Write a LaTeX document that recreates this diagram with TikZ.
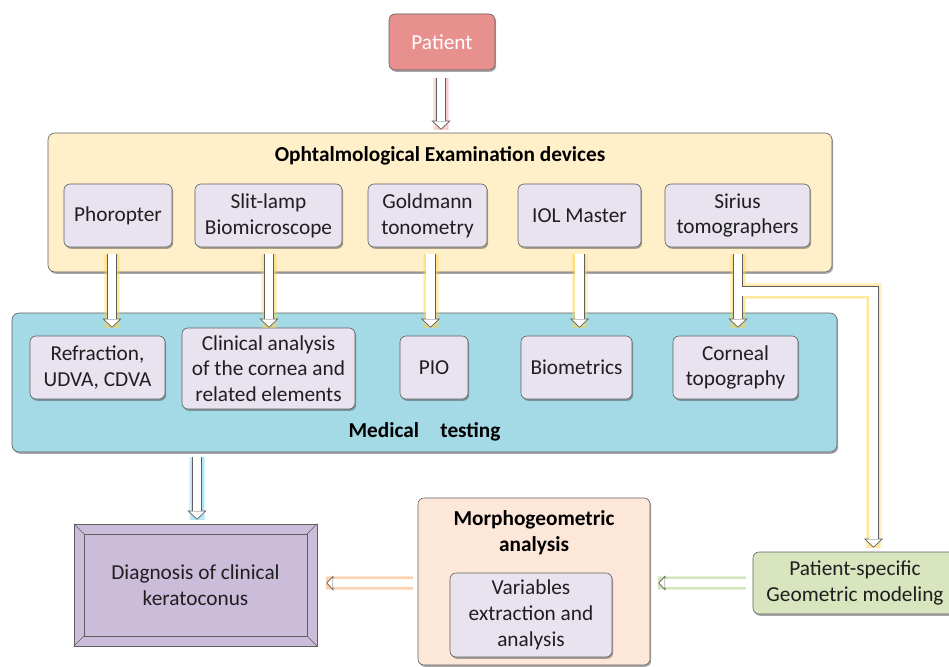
\documentclass[tikz,border=0pt]{standalone}
\usepackage{fontspec}
\setmainfont{Carlito}
\usetikzlibrary{arrows.meta,shadows,calc}
\definecolor{patfill}{HTML}{E8908D}
\definecolor{odefill}{HTML}{FFF0C9}
\definecolor{devfill}{HTML}{E8E3EF}
\definecolor{medfill}{HTML}{A3DAE5}
\definecolor{diagfill}{HTML}{CBBCDA}
\definecolor{morfill}{HTML}{FDE7D8}
\definecolor{psfill}{HTML}{D8E5BE}
\definecolor{edge}{HTML}{5F5F5F}
\definecolor{glowpink}{HTML}{F4A0A0}
\definecolor{glowgold}{HTML}{FFD34D}
\definecolor{glowcyan}{HTML}{6FD3EA}
\definecolor{gloworange}{HTML}{F9A868}
\definecolor{glowgreen}{HTML}{A9D27A}
\tikzset{
  txt/.style={font=\fontsize{21.3}{25.8}\selectfont, text=black!88},
  ttl/.style={font=\fontsize{21.3}{26}\selectfont\bfseries, text=black},
  shad/.style={drop shadow={shadow xshift=1.2pt, shadow yshift=-1.8pt, opacity=0.45, fill=black!75}},
  box/.style={draw=edge, line width=0.6pt, rounded corners=6pt, fill=devfill,
    align=center, inner sep=1pt, txt, shad},
  bigbox/.style={draw=edge, line width=0.6pt, rounded corners=7pt, shad},
  tipV/.style={-{Triangle[open,fill=white,line width=0.7pt,length=9pt,width=19pt]}},
  tipH/.style={-{Triangle[open,fill=white,line width=0.7pt,length=7pt,width=15pt]}},
  shaftV/.style={draw=edge, line width=10pt},
  shaftH/.style={draw=edge, line width=8.5pt},
  innerV/.style={draw=white, line width=8.6pt, shorten >=8.3pt},
  innerH/.style={draw=white, line width=7.1pt, shorten >=6.4pt},
  glowV/.style={draw=#1, line width=16pt, opacity=0.3},
  glowVb/.style={draw=#1, line width=13pt, opacity=0.35},
  glowH/.style={draw=#1, line width=14pt, opacity=0.3},
  glowHb/.style={draw=#1, line width=11.5pt, opacity=0.35},
  barrowV/.style={shaftV, tipV, preaction={glowV=#1, -}, preaction={glowVb=#1, -}, postaction={innerV, -}},
  barrowH/.style={shaftH, tipH, preaction={glowH=#1, -}, preaction={glowHb=#1, -}, postaction={innerH, -}},
}
\begin{document}
\begin{tikzpicture}[x=1pt,y=-1pt]
\useasboundingbox (0,0) rectangle (949,666);

% big containers
\node[bigbox, fill=odefill, minimum width=784pt, minimum height=139pt] (ode) at (440,202.5) {};
\node[ttl] (odet) at (440,156) {Ophtalmological Examination devices};
\node[bigbox, fill=medfill, minimum width=825pt, minimum height=139pt] (med) at (424.5,382.5) {};
\node[ttl] (medt) at (424.5,432) {Medical\hspace{1em}testing};

% patient
\node[box, fill=patfill, text=white, minimum width=106pt, minimum height=56pt] (pat) at (442,42) {Patient};

% devices
\node[box, minimum width=108pt, minimum height=63pt] (phor) at (118,215.5) {Phoropter};
\node[box, minimum width=147pt, minimum height=63pt] (slit) at (268.5,215.5) {Slit-lamp\\Biomicroscope};
\node[box, minimum width=119pt, minimum height=63pt] (gold) at (427.5,215.5) {Goldmann\\tonometry};
\node[box, minimum width=123pt, minimum height=63pt] (iol) at (579.5,215.5) {IOL Master};
\node[box, minimum width=145pt, minimum height=63pt] (sir) at (737.5,215.5) {Sirius\\tomographers};

% medical tests
\node[box, minimum width=135pt, minimum height=63pt] (refr) at (97.5,367.5) {Refraction,\\UDVA, CDVA};
\node[box, minimum width=173pt, minimum height=81pt] (clin) at (268.5,368.5) {Clinical analysis\\of the cornea and\\related elements};
\node[box, minimum width=68pt, minimum height=63pt] (pio) at (434,367.5) {PIO};
\node[box, minimum width=111pt, minimum height=63pt] (biom) at (576.5,367.5) {Biometrics};
\node[box, minimum width=125pt, minimum height=63pt] (corn) at (735.5,367.5) {Corneal\\topography};

% diagnosis (bevel frame)
\node[draw=edge, line width=0.6pt, fill=diagfill, minimum width=243pt, minimum height=122pt,
      align=center, txt] (diag) at (195.5,585) {Diagnosis of clinical\\keratoconus};
\draw[edge, line width=0.6pt] ($(diag.north west)+(10.5,10.5)$) coordinate (dnw)
  rectangle ($(diag.south east)+(-10.5,-10.5)$) coordinate (dse);
\draw[edge, line width=0.6pt] (diag.north west) -- (dnw)
  (diag.south east) -- (dse)
  (diag.north east) -- ($(diag.north east)+(-10.5,10.5)$)
  (diag.south west) -- ($(diag.south west)+(10.5,-10.5)$);

% morphogeometric
\node[bigbox, rounded corners=6pt, fill=morfill, minimum width=232pt, minimum height=167pt] (mor) at (534,581.5) {};
\node[ttl, align=center] (mort) at (534,533) {Morphogeometric\\analysis};
\node[box, minimum width=162pt, minimum height=84pt] (var) at (531,615) {Variables\\extraction and\\analysis};

% patient-specific
\node[box, fill=psfill, minimum width=204pt, minimum height=62pt] (ps) at (855,583) {Patient-specific\\Geometric modeling};

% arrows
\draw[barrowV=glowpink] ($(pat.south)+(-1,8)$) -- ($(pat.south |- ode.north)+(-1,-3)$);
\draw[barrowV=glowgold] ($(phor.south)+(-6,7)$) -- ($(phor.south |- refr.north)+(-6,-8)$);
\draw[barrowV=glowgold] ($(slit.south)+(0.5,7)$) -- ($(slit.south |- refr.north)+(0.5,-8)$);
\draw[barrowV=glowgold] ($(gold.south)+(3,7)$) -- ($(gold.south |- refr.north)+(3,-8)$);
\draw[barrowV=glowgold] ($(iol.south)+(0,7)$) -- ($(iol.south |- refr.north)+(0,-8)$);

% Sirius split
\coordinate (s1) at ($(sir.south)+(0.5,7)$);
\coordinate (e2) at ($(sir.south |- corn.north)+(0.5,-8)$);
\coordinate (c1) at ($(sir.south)+(0.5,44)$);
\coordinate (e1) at ($(ps.north)+(18.5,-4)$);
\draw[glowV=glowgold] (s1) -- (e2) (s1) -- (c1) -| (e1);
\draw[glowVb=glowgold] (s1) -- (e2) (s1) -- (c1) -| (e1);
\draw[shaftV, tipV] (s1) -- (e2);
\draw[shaftV, tipV, line join=miter] (s1) -- (c1) -| (e1);
\draw[innerV, line join=miter] (s1) -- (c1) -| (e1);
\draw[innerV] (s1) -- (e2);

\draw[barrowV=glowcyan] ($(diag.north |- med.south)+(1.5,5)$) -- ($(diag.north)+(1.5,-4)$);

\coordinate (m1) at ($(mor.west)+(-5,1.5)$);
\draw[barrowH=gloworange] (m1) -- ($(m1 -| diag.east)+(9,0)$);
\coordinate (p1) at ($(ps.west)+(-7,0)$);
\draw[barrowH=glowgreen] (p1) -- ($(p1 -| mor.east)+(8,0)$);
\end{tikzpicture}
\end{document}
